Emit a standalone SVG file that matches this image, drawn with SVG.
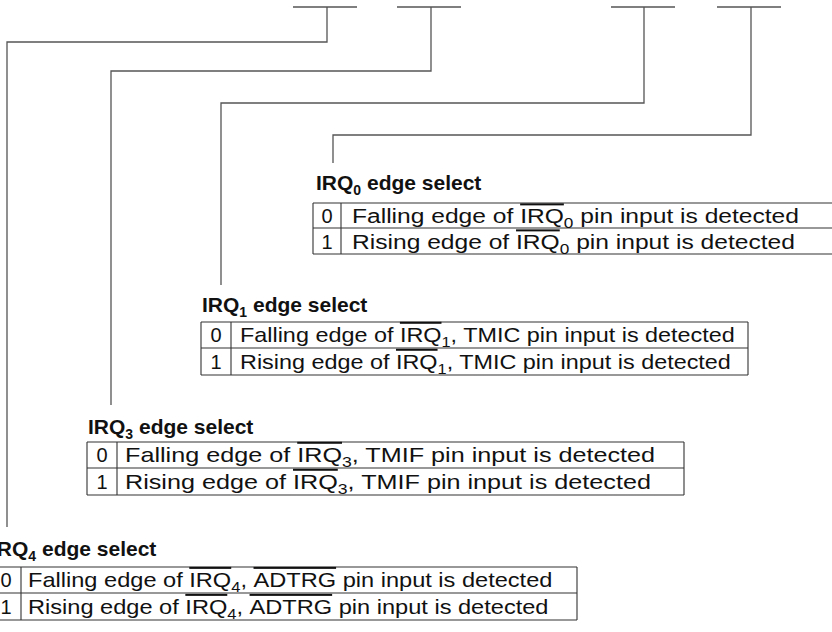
<svg xmlns="http://www.w3.org/2000/svg" width="832" height="632" viewBox="0 0 832 632">
<style>
.c{fill:none;stroke:#555;stroke-width:1.3}
.b{fill:none;stroke:#333;stroke-width:1.1}
.t{font-family:"Liberation Sans",Arial,sans-serif;font-size:20px;fill:#111}
.h{font-family:"Liberation Sans",Arial,sans-serif;font-size:21px;font-weight:bold;fill:#111}
.n{text-anchor:middle}
.s{font-size:14px}
.o{text-decoration:overline}
</style>
<rect width="832" height="632" fill="#fff"/>
<g id="connectors" class="c">
<path d="M293 7H357M397 7H461M611 7H675M717 7H781"/>
<path d="M327 7V42H7V527"/>
<path d="M431 7V71H111V405"/>
<path d="M644 7V103H221V285"/>
<path d="M751 7V135H333V163"/>
</g>
<g id="irq0">
<text class="h" x="316" y="190">IRQ<tspan class="s" dy="5">0</tspan><tspan dy="-5"> edge select</tspan></text>
<path class="b" d="M313 203H833M313 228H833M313 254H833M313 203V254M341 203V254"/>
<text class="t n" x="327" y="223">0</text>
<text class="t" transform="translate(352 223) scale(1.23 1)">Falling edge of <tspan class="o">IRQ</tspan><tspan class="s" dy="5">0</tspan><tspan dy="-5"> pin input is detected</tspan></text>
<text class="t n" x="327" y="249">1</text>
<text class="t" transform="translate(352 249) scale(1.23 1)">Rising edge of <tspan class="o">IRQ</tspan><tspan class="s" dy="5">0</tspan><tspan dy="-5"> pin input is detected</tspan></text>
</g>
<g id="irq1">
<text class="h" x="202" y="312">IRQ<tspan class="s" dy="5">1</tspan><tspan dy="-5"> edge select</tspan></text>
<path class="b" d="M201 322H748M201 348H748M201 375H748M201 322V375M748 322V375M231 322V375"/>
<text class="t n" x="216" y="342">0</text>
<text class="t" transform="translate(240 342) scale(1.17 1)">Falling edge of <tspan class="o">IRQ</tspan><tspan class="s" dy="5">1</tspan><tspan dy="-5">, TMIC pin input is detected</tspan></text>
<text class="t n" x="216" y="369">1</text>
<text class="t" transform="translate(240 369) scale(1.17 1)">Rising edge of <tspan class="o">IRQ</tspan><tspan class="s" dy="5">1</tspan><tspan dy="-5">, TMIC pin input is detected</tspan></text>
</g>
<g id="irq3">
<text class="h" x="88" y="434">IRQ<tspan class="s" dy="5">3</tspan><tspan dy="-5"> edge select</tspan></text>
<path class="b" d="M87 442H684M87 468H684M87 495H684M87 442V495M684 442V495M117 442V495"/>
<text class="t n" x="102" y="462">0</text>
<text class="t" transform="translate(125 462) scale(1.26 1)">Falling edge of <tspan class="o">IRQ</tspan><tspan class="s" dy="5">3</tspan><tspan dy="-5">, TMIF pin input is detected</tspan></text>
<text class="t n" x="102" y="489">1</text>
<text class="t" transform="translate(125 489) scale(1.26 1)">Rising edge of <tspan class="o">IRQ</tspan><tspan class="s" dy="5">3</tspan><tspan dy="-5">, TMIF pin input is detected</tspan></text>
</g>
<g id="irq4">
<text class="h" x="-9" y="556">IRQ<tspan class="s" dy="5">4</tspan><tspan dy="-5"> edge select</tspan></text>
<path class="b" d="M-10 567H577M-10 593H577M-10 620H577M577 567V620M21 567V620"/>
<text class="t n" x="6" y="587">0</text>
<text class="t" transform="translate(28 587) scale(1.18 1)">Falling edge of <tspan class="o">IRQ</tspan><tspan class="s" dy="5">4</tspan><tspan dy="-5">, <tspan class="o">ADTRG</tspan> pin input is detected</tspan></text>
<text class="t n" x="6" y="614">1</text>
<text class="t" transform="translate(28 614) scale(1.18 1)">Rising edge of <tspan class="o">IRQ</tspan><tspan class="s" dy="5">4</tspan><tspan dy="-5">, <tspan class="o">ADTRG</tspan> pin input is detected</tspan></text>
</g>
</svg>
